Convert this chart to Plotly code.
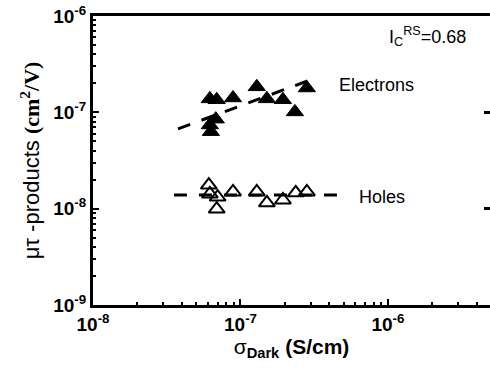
import math
import plotly.graph_objects as go

# Electrons (filled triangles)
e_x = [6.2e-8, 6.9e-8, 8.9e-8, 1.29e-7, 1.51e-7, 1.94e-7, 2.34e-7, 2.82e-7, 6.8e-8, 6.2e-8, 6.3e-8]
e_y = [1.38e-7, 1.35e-7, 1.41e-7, 1.84e-7, 1.38e-7, 1.35e-7, 1.01e-7, 1.79e-7, 8.5e-8, 7.4e-8, 6.3e-8]
# Holes (open triangles)
h_x = [6.1e-8, 6.2e-8, 7.0e-8, 6.9e-8, 8.9e-8, 1.29e-7, 1.51e-7, 1.94e-7, 2.37e-7, 2.82e-7]
h_y = [1.76e-8, 1.42e-8, 1.32e-8, 9.9e-9, 1.49e-8, 1.49e-8, 1.15e-8, 1.23e-8, 1.46e-8, 1.49e-8]
# Fit lines
e_fit_x = [3.77e-8, 3.2e-7]
e_fit_y = [6.72e-8, 2.26e-7]
h_fit_x = [3.54e-8, 4.87e-7]
h_fit_y = [1.39e-8, 1.39e-8]

x_ticks = [1e-8, 1e-7, 1e-6]
x_ticktext = ["10<sup>-8</sup>", "10<sup>-7</sup>", "10<sup>-6</sup>"]
y_ticks = [1e-9, 1e-8, 1e-7, 1e-6]
y_ticktext = ["10<sup>-9</sup>", "10<sup>-8</sup>", "10<sup>-7</sup>", "10<sup>-6</sup>"]

FONT = "Arial, Liberation Sans, sans-serif"

fig = go.Figure()
fig.add_trace(go.Scatter(x=e_fit_x, y=e_fit_y, mode="lines",
                         line=dict(color="black", width=3, dash="13px,12px"),
                         showlegend=False, hoverinfo="skip"))
fig.add_trace(go.Scatter(x=h_fit_x, y=h_fit_y, mode="lines",
                         line=dict(color="black", width=3, dash="13px,12px"),
                         showlegend=False, hoverinfo="skip"))
fig.add_trace(go.Scatter(x=e_x, y=e_y, mode="markers",
                         marker=dict(symbol="triangle-up", size=15, color="black",
                                     line=dict(color="black", width=1)),
                         showlegend=False))
fig.add_trace(go.Scatter(x=h_x, y=h_y, mode="markers",
                         marker=dict(symbol="triangle-up-open", size=14, color="black",
                                     line=dict(color="black", width=2)),
                         showlegend=False))
# invisible trace to activate the right-hand tick axis
fig.add_trace(go.Scatter(x=h_fit_x, y=h_fit_y, yaxis="y2", mode="lines",
                         line=dict(width=0), opacity=0, showlegend=False, hoverinfo="skip"))

fig.update_layout(
    width=490, height=372,
    margin=dict(l=93, r=0, t=16, b=67),
    paper_bgcolor="white", plot_bgcolor="white",
    font=dict(family=FONT, color="black"),
    xaxis=dict(type="log", range=[-8, -5.308], showline=True, linewidth=3, linecolor="black",
               mirror=True, ticks="inside", ticklen=6, tickwidth=2, tickcolor="black",
               tickvals=x_ticks, ticktext=x_ticktext, showgrid=False, zeroline=False,
               tickfont=dict(size=19, family=FONT, weight="bold"),
               minor=dict(ticks="inside", ticklen=3, tickwidth=2, tickcolor="black",
                          dtick="D1", showgrid=False),
               title=dict(text="σ<sub><b>Dark</b></sub> <b>(S/cm)</b>",
                          font=dict(size=21, family=FONT), standoff=6)),
    yaxis=dict(type="log", range=[-9, -6], showline=True, linewidth=3, linecolor="black",
               ticks="inside", ticklen=6, tickwidth=2, tickcolor="black",
               tickvals=y_ticks, ticktext=y_ticktext, showgrid=False, zeroline=False,
               tickfont=dict(size=19, family=FONT, weight="bold"),
               minor=dict(ticks="inside", ticklen=3, tickwidth=2, tickcolor="black",
                          dtick="D1", showgrid=False),
               title=dict(text="μτ -products <span style='font-family:Times New Roman, Liberation Serif, serif; font-weight:bold'>(cm<sup>2</sup>/V)</span>",
                          font=dict(size=22, family=FONT), standoff=8)),
    yaxis2=dict(type="log", range=[-9, -6], overlaying="y", side="right", showline=False,
                ticks="inside", ticklen=6, tickwidth=3, tickcolor="black",
                tickvals=[1e-8, 1e-7], showticklabels=False, showgrid=False, zeroline=False),
    annotations=[
        dict(text="Electrons", x=math.log10(4.51e-7), y=math.log10(1.93e-7), xref="x", yref="y",
             xanchor="left", yanchor="middle", showarrow=False, font=dict(size=18, family=FONT)),
        dict(text="Holes", x=math.log10(6.17e-7), y=math.log10(1.32e-8), xref="x", yref="y",
             xanchor="left", yanchor="middle", showarrow=False, font=dict(size=18, family=FONT)),
        dict(text="I<sub>C</sub><sup>RS</sup>=0.68", x=0.945, y=0.93, xref="paper", yref="paper",
             xanchor="right", yanchor="middle", showarrow=False, font=dict(size=18, family=FONT)),
    ],
)

fig.write_html("out.html", config={"displayModeBar": False},
               post_script="document.body.style.margin='0';document.body.style.overflow='hidden';")
